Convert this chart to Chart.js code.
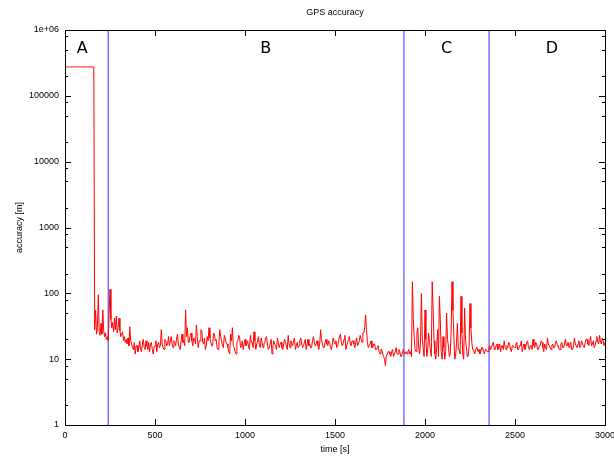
<!DOCTYPE html>
<html>
<head>
<meta charset="utf-8">
<script src="https://cdn.jsdelivr.net/npm/chart.js@4/dist/chart.umd.min.js"></script>
<style>
  body { margin: 0; background: #fff; }
  #wrap { width: 614px; height: 456px; position: relative; }
</style>
</head>
<body>
<div id="wrap"><canvas id="gpsCanvas"></canvas></div>
<script>
//Chart content
const chartTitle = 'GPS accuracy'
const xTitle = 'time [s]'
const yTitle = 'accuracy [m]'

//one accuracy sample every 5 s, from 0 s to 3000 s (20 samples per row = 100 s)
const sampleStep = 5
const accuracy = [
    275000, 275000, 275000, 275000, 275000, 275000, 275000, 275000, 275000, 275000,
    275000, 275000, 275000, 275000, 275000, 275000, 275000, 275000, 275000, 275000,
    275000, 275000, 275000, 275000, 275000, 275000, 275000, 275000, 275000, 275000,
    275000, 275000, 275000, 28, 55, 24, 30, 95, 26, 23,
    35, 24, 56, 27, 22, 25, 20, 22, 19, 48, 115, 40, 30, 36, 26, 42, 28, 45, 25, 30,
    42, 27, 22, 24, 26, 19, 22, 18, 20, 17, 21, 16, 31, 19, 17, 15, 14, 18, 12, 16,
    16, 13, 15, 19, 14, 13, 17, 20, 15, 14, 19, 16, 14, 18, 13, 17, 18, 14, 12, 15,
    16, 19, 13, 17, 18, 15, 16, 28, 17, 15, 14, 20, 19, 16, 17, 22, 16, 19, 22, 17,
    15, 19, 18, 16, 21, 24, 17, 15, 14, 19, 24, 18, 19, 16, 56, 22, 30, 18, 18, 23,
    25, 19, 16, 21, 20, 17, 33, 22, 15, 19, 19, 28, 27, 18, 17, 21, 14, 16, 22, 19,
    30, 21, 18, 16, 16, 25, 24, 19, 20, 15, 14, 18, 28, 22, 19, 16, 15, 23, 21, 18,
    17, 15, 13, 12, 24, 19, 30, 16, 15, 13, 12, 18, 19, 23, 22, 15, 16, 19, 14, 17,
    20, 16, 17, 19, 15, 14, 23, 18, 18, 15, 26, 19, 14, 17, 19, 22, 16, 15, 21, 18,
    15, 17, 18, 21, 22, 16, 14, 15, 17, 20, 12, 16, 19, 17, 16, 14, 21, 18, 15, 17,
    18, 15, 14, 17, 20, 18, 16, 14, 23, 17, 15, 19, 17, 16, 19, 21, 14, 16, 18, 15,
    16, 19, 21, 17, 15, 16, 18, 20, 14, 17, 20, 16, 17, 15, 15, 19, 22, 18, 16, 17,
    19, 16, 14, 17, 28, 20, 17, 15, 15, 18, 20, 17, 16, 19, 18, 15, 14, 17, 21, 18,
    17, 19, 15, 16, 19, 22, 24, 18, 16, 17, 20, 23, 14, 16, 18, 20, 22, 17, 16, 19,
    19, 17, 15, 18, 21, 16, 17, 19, 23, 20, 18, 25, 25, 30, 47, 28, 18, 15, 16, 17,
    19, 15, 15, 17, 17, 14, 14, 15, 16, 13, 12, 14, 14, 12, 11, 10, 8, 11, 12, 13,
    13, 12, 11, 13, 14, 11, 12, 13, 15, 12, 12, 14, 13, 11, 11, 13, 14, 12, 12, 13,
    12, 13, 14, 12, 13, 11, 150, 40, 22, 14, 13, 25, 30, 15, 12, 18, 100, 20, 15, 11,
    56, 20, 11, 14, 25, 18, 14, 11, 150, 60, 19, 12, 10, 15, 28, 11, 90, 40, 13, 10,
    22, 15, 10, 13, 50, 20, 16, 11, 12, 25, 150, 55, 24, 10, 11, 18, 35, 14, 14, 12,
    90, 25, 12, 10, 60, 20, 15, 11, 11, 16, 70, 30, 18, 14, 14, 12, 13, 15, 15, 13,
    14, 12, 13, 15, 15, 13, 12, 14, 14, 13, 13, 15, 16, 14, 15, 17, 18, 14, 14, 16,
    17, 14, 15, 17, 13, 16, 16, 14, 19, 15, 14, 16, 15, 18, 17, 14, 13, 16, 16, 15,
    15, 17, 18, 14, 14, 16, 16, 19, 13, 15, 17, 14, 15, 18, 19, 15, 14, 16, 16, 14,
    20, 16, 15, 18, 17, 14, 14, 16, 16, 19, 18, 15, 13, 17, 15, 14, 21, 17, 16, 15,
    14, 16, 17, 15, 15, 18, 19, 16, 16, 14, 14, 17, 18, 15, 15, 17, 20, 16, 16, 18,
    15, 17, 18, 14, 14, 16, 21, 17, 16, 15, 17, 19, 15, 16, 19, 17, 16, 15, 18, 20,
    20, 17, 16, 18, 22, 16, 17, 19, 15, 16, 19, 22, 18, 17, 23, 18, 17, 21, 19, 16,
    18
]

//phase boundaries (s) and phase names
const phaseBounds = [240, 1883, 2356]
const phaseNames = ['A', 'B', 'C', 'D']
const phaseLabelTimes = [95, 1115, 2120, 2705]

//axis ticks
const xTicks = [0, 500, 1000, 1500, 2000, 2500, 3000]
const yTicks = [1, 10, 100, 1000, 10000, 100000, 1000000]
const yTickLabels = ['1', '10', '100', '1000', '10000', '100000', '1e+06']
const yMinorFactors = [2, 5, 8]

const yMin = 1
const yMax = 1000000



//Build datasets
const accuracyPoints = accuracy.map((v, i) => ({x: i * sampleStep, y: v}))

const boundaryDatasets = phaseBounds.map(t => ({
    data: [{x: t, y: yMin}, {x: t, y: yMax}],
    borderColor: '#2f2fff',
    borderWidth: 1,
    pointRadius: 0
}))

const tickFont = {family: 'Liberation Sans', size: 9}

//Frame, inward tick marks, title and phase letters like gnuplot
const gnuplotFrame = {
    id: 'gnuplotFrame',
    afterDraw(chart)
    {
        const {ctx, chartArea: a, scales: {x, y}} = chart
        ctx.save()
        ctx.strokeStyle = '#000'
        ctx.lineWidth = 1

        ctx.beginPath()
        xTicks.forEach(t => {
            const px = Math.round(x.getPixelForValue(t)) + 0.5
            ctx.moveTo(px, a.bottom); ctx.lineTo(px, a.bottom - 6)
            ctx.moveTo(px, a.top); ctx.lineTo(px, a.top + 6)
        })
        yTicks.forEach((t, i) => {
            const py = Math.round(y.getPixelForValue(t)) + 0.5
            ctx.moveTo(a.left, py); ctx.lineTo(a.left + 6, py)
            ctx.moveTo(a.right, py); ctx.lineTo(a.right - 6, py)
            if (i === yTicks.length - 1) return
            yMinorFactors.forEach(f => {
                const pm = Math.round(y.getPixelForValue(t * f)) + 0.5
                ctx.moveTo(a.left, pm); ctx.lineTo(a.left + 3, pm)
                ctx.moveTo(a.right, pm); ctx.lineTo(a.right - 3, pm)
            })
        })
        ctx.stroke()

        ctx.strokeRect(Math.round(a.left) + 0.5, Math.round(a.top) + 0.5,
            Math.round(a.right - a.left), Math.round(a.bottom - a.top))

        ctx.fillStyle = '#000'
        ctx.textAlign = 'center'
        ctx.textBaseline = 'middle'
        ctx.font = '9px "Liberation Sans"'
        ctx.fillText(chartTitle, (a.left + a.right) / 2, 13)

        ctx.font = '16px "DejaVu Sans"'
        phaseNames.forEach((name, i) => {
            ctx.fillText(name, x.getPixelForValue(phaseLabelTimes[i]), a.top + 19)
        })
        ctx.restore()
    }
}

const gpsChart = new Chart(
    document.getElementById('gpsCanvas'),
    {
        type: 'line',
        data:
        {
            datasets:
            [
                {
                    data: accuracyPoints,
                    borderColor: '#ff0000',
                    borderWidth: 1,
                    pointRadius: 0
                },
                ...boundaryDatasets
            ]
        },
        options:
        {
            responsive: true,
            maintainAspectRatio: false,
            animation: false,
            layout: {padding: {top: 30, right: 9, left: 0, bottom: 0}},
            plugins:
            {
                legend: {display: false},
                tooltip: {enabled: false}
            },
            scales:
            {
                x:
                {
                    type: 'linear',
                    min: 0,
                    max: 3000,
                    afterBuildTicks: s => { s.ticks = xTicks.map(v => ({value: v})) },
                    ticks: {font: tickFont, color: '#000', padding: 5, maxRotation: 0, autoSkip: false, callback: v => String(v)},
                    grid: {display: false, drawTicks: false},
                    border: {display: false},
                    title: {display: true, text: xTitle, font: tickFont, color: '#000', padding: {top: 4, bottom: 1}},
                    afterFit: s => { s.height = 31; s.paddingLeft = 0; s.paddingRight = 0 }
                },
                y:
                {
                    type: 'logarithmic',
                    min: yMin,
                    max: yMax,
                    afterBuildTicks: s => { s.ticks = yTicks.map(v => ({value: v})) },
                    ticks:
                    {
                        font: tickFont,
                        color: '#000',
                        padding: 6,
                        autoSkip: false,
                        callback: v => yTickLabels[yTicks.indexOf(v)]
                    },
                    grid: {display: false, drawTicks: false},
                    border: {display: false},
                    title: {display: true, text: yTitle, font: tickFont, color: '#000', padding: {top: 14, bottom: 4}},
                    afterFit: s => { s.width = 65; s.paddingTop = 0; s.paddingBottom = 0 }
                }
            }
        },
        plugins: [gnuplotFrame]
    }
);
</script>
</body>
</html>
